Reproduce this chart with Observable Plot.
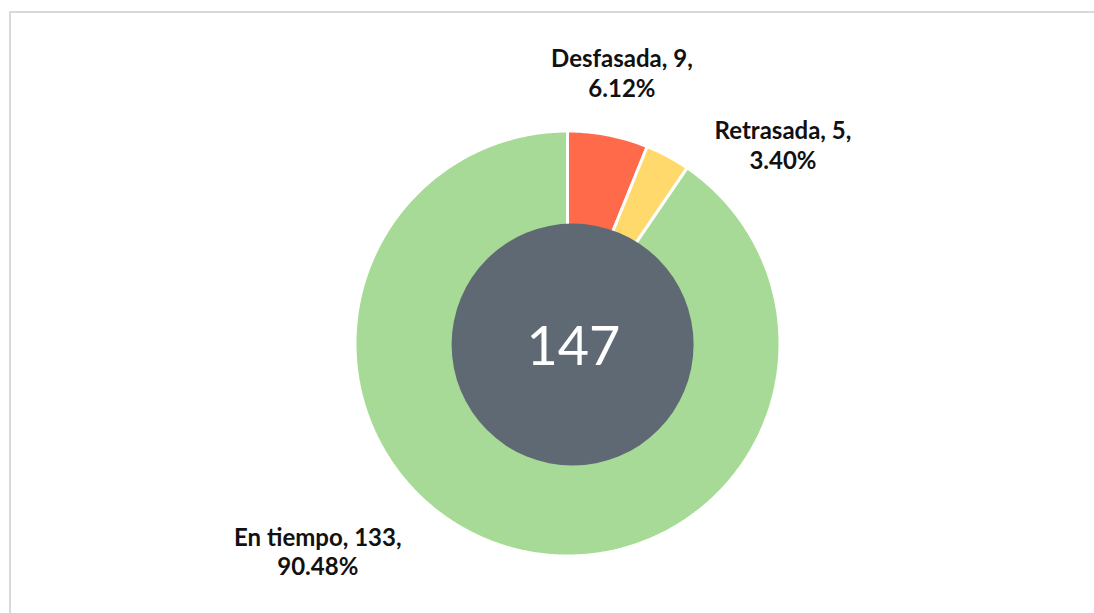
<!DOCTYPE html>
<html>
<head>
<meta charset="utf-8">
<script src="https://cdn.jsdelivr.net/npm/d3@7"></script>
<script src="https://cdn.jsdelivr.net/npm/@observablehq/plot@0.6"></script>
<style>
  html, body { margin: 0; padding: 0; background: #fff; }
  #wrap { position: relative; width: 1094px; height: 613px; overflow: hidden; }
  #border { position: absolute; left: 9px; top: 11px; width: 1200px; height: 800px; border: 2px solid #d9d9d9; box-sizing: border-box; pointer-events: none; }
  svg { display: block; }
</style>
</head>
<body>
<div id="wrap"><div id="border"></div></div>
<script>
// Data
const categories = ["Desfasada", "Retrasada", "En tiempo"];
const counts = [9, 5, 133];
const percents = ["6.12%", "3.40%", "90.48%"];
const total = 147;
const colors = ["#FF6A4A", "#FFD96C", "#A7DA96"];

// Layout (unit space of the donut, outer radius = 1)
const innerRadius = 0.5;
const holeRadiusPx = 121;
const holeCenter = {x: 0.024, y: -0.005};
const labelPos = [
  {x: 0.256, y: 1.275},
  {x: 1.014, y: 0.938},
  {x: -1.175, y: -0.976}
];

// Build ring polygons from the values
const sum = d3.sum(counts);
const pts = [];
let acc = 0;
categories.forEach((name, i) => {
  const a0 = acc / sum * 2 * Math.PI;
  acc += counts[i];
  const a1 = acc / sum * 2 * Math.PI;
  const n = Math.max(4, Math.ceil((a1 - a0) / 0.01));
  for (let k = 0; k <= n; k++) {
    const a = a0 + (a1 - a0) * k / n;
    pts.push({name, x: Math.sin(a), y: Math.cos(a)});
  }
  for (let k = n; k >= 0; k--) {
    const a = a0 + (a1 - a0) * k / n;
    pts.push({name, x: innerRadius * Math.sin(a), y: innerRadius * Math.cos(a)});
  }
});

const labels = categories.map((name, i) => ({
  text: `${name}, ${counts[i]},\n${percents[i]}`,
  x: labelPos[i].x, y: labelPos[i].y
}));

const chart = Plot.plot({
  width: 1094,
  height: 613,
  margin: 0,
  style: {background: "transparent", fontFamily: "Lato, sans-serif"},
  x: {domain: [-1, 1], range: [354.5, 779.5], axis: null},
  y: {domain: [-1, 1], range: [555.5, 130.5], axis: null},
  color: {type: "ordinal", domain: categories, range: colors},
  marks: [
    Plot.line(pts, {x: "x", y: "y", z: "name", fill: "name", stroke: "white", strokeWidth: 3, curve: "linear-closed", strokeLinejoin: "miter"}),
    Plot.dot([holeCenter], {x: "x", y: "y", r: holeRadiusPx, fill: "#5F6973", stroke: null}),
    Plot.text([{x: holeCenter.x + 0.004, y: holeCenter.y - 0.014, t: String(total)}], {x: "x", y: "y", text: "t", fill: "white", fontSize: 54, fontWeight: 400}),
    Plot.text(labels, {x: "x", y: "y", text: "text", fill: "#111", fontSize: 24, fontWeight: "bold", lineHeight: 1.25, textAnchor: "middle"})
  ]
});
document.getElementById("wrap").prepend(chart);
</script>
</body>
</html>
